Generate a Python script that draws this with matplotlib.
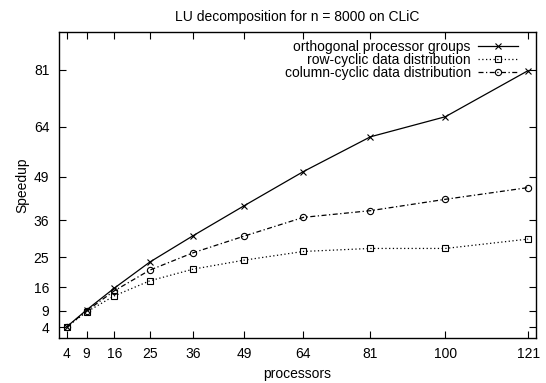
import matplotlib
matplotlib.use("Agg")
import matplotlib.pyplot as plt

processors = [4, 9, 16, 25, 36, 49, 64, 81, 100, 121]
orthogonal = [4.2, 9.2, 15.7, 23.5, 31.4, 40.4, 50.6, 61.0, 67.0, 80.8]
row_cyclic = [4.2, 8.6, 13.4, 17.9, 21.4, 24.1, 26.7, 27.6, 27.6, 30.4]
col_cyclic = [4.2, 8.9, 14.9, 21.1, 26.3, 31.3, 36.9, 38.9, 42.3, 45.8]
xticks = [4, 9, 16, 25, 36, 49, 64, 81, 100, 121]
yticks = [4, 9, 16, 25, 36, 49, 64, 81]

plt.rcParams['font.family'] = ['Liberation Sans', 'DejaVu Sans']
FS = 10

fig = plt.figure(figsize=(5.46, 3.83), dpi=100)
ax = fig.add_axes([59/546, 1 - 337.7/383, (536-59)/546, (337.7-32.5)/383])

ax.plot(processors, orthogonal, color='black', lw=0.9, marker='x', ms=4.5, mew=0.8,
        label='orthogonal processor groups')
ax.plot(processors, row_cyclic, color='black', lw=0.9, ls=(0, (1, 2)), marker='s', ms=4.5,
        mfc='none', mew=0.8, label='row-cyclic data distribution')
ax.plot(processors, col_cyclic, color='black', lw=0.9, ls=(0, (4, 2, 1, 2)), marker='o', ms=4.5,
        mfc='none', mew=0.8, label='column-cyclic data distribution')

ax.set_xlim(2, 123)
ax.set_ylim(0.9, 92.2)
ax.set_xticks(xticks)
ax.set_yticks(yticks)
ax.tick_params(direction='in', top=True, right=True, length=5, width=0.8, pad=7, labelsize=FS)
for s in ax.spines.values():
    s.set_linewidth(1.0)

ax.set_xlabel('processors', fontsize=FS, labelpad=4)
ax.set_ylabel('Speedup', fontsize=FS, labelpad=3)
ax.set_title('LU decomposition for n = 8000 on CLiC', fontsize=FS, pad=8)

ax.legend(loc='upper right', bbox_to_anchor=(0.962, 0.977), frameon=False,
          markerfirst=False, handlelength=2.9, labelspacing=-0.07, handletextpad=0.5,
          borderaxespad=0.0, borderpad=0.0, fontsize=FS)

fig.savefig('out.png', dpi=100)
